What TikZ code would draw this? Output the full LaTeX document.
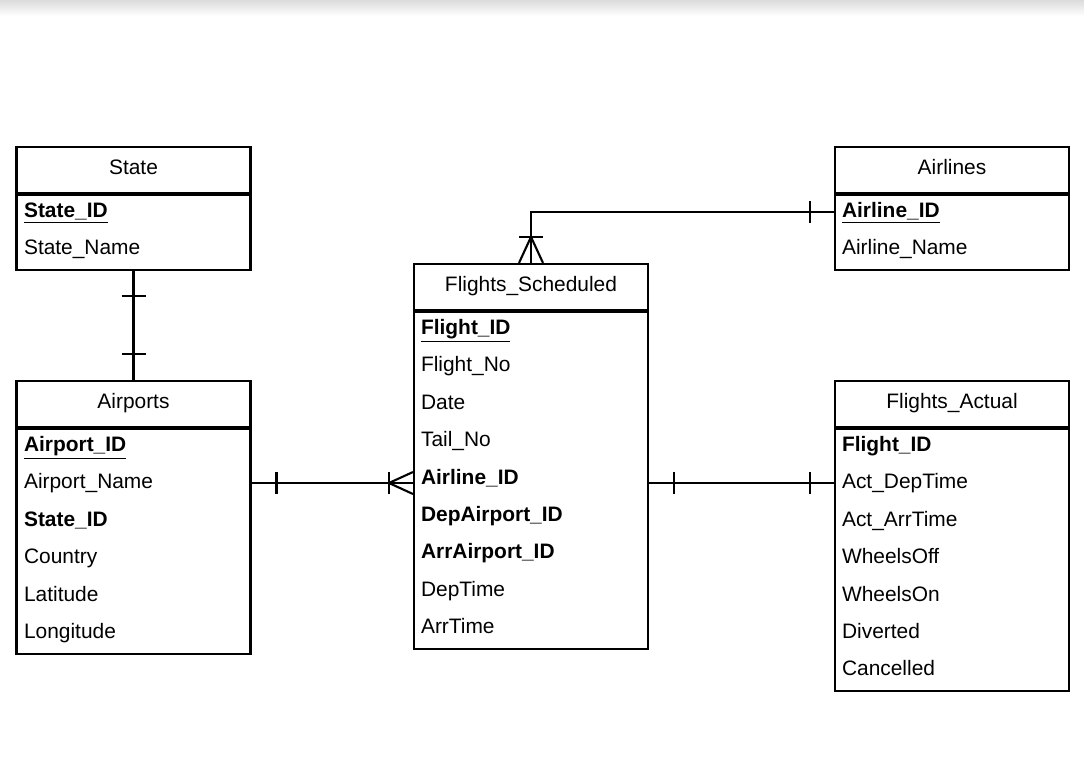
\documentclass[tikz,border=0pt]{standalone}
\usepackage{fontspec}
\setmainfont{Liberation Sans}
\usetikzlibrary{positioning,calc}
\newcommand{\erfont}{\fontsize{11.9}{14}\selectfont}
\newcommand{\pk}[1]{\textbf{\underline{#1}}}
\newcommand{\fk}[1]{\textbf{#1}}

\begin{document}
\begin{tikzpicture}[x=0.02cm,y=-0.02cm,line width=1.2pt,font=\erfont,
 ttl/.style={draw,minimum width=4.68cm,minimum height=0.92cm,inner sep=0pt,text height=9pt,text depth=4pt},
 bod/.style={draw,minimum width=4.68cm,inner sep=0pt,anchor=north},
 fld/.style={anchor=base west,inner sep=0pt}]
\useasboundingbox (0,0) rectangle (1084,757);
\shade[top color=black!14,bottom color=white] (0,0) rectangle (1084,16);
% entities
\node[ttl] (state) at (133.5,170) {State};
\node[bod,minimum height=1.5cm] (stateb) at (state.south) {};
\foreach \t [count=\i from 0] in {\pk{State\_ID},State\_Name}
  \node[fld] (st\i) at (23,217.5+37.4*\i) {\t};
\node[ttl] (airp) at (133.5,404) {Airports};
\node[bod,minimum height=4.5cm] (airpb) at (airp.south) {};
\foreach \t [count=\i from 0] in {\pk{Airport\_ID},Airport\_Name,\fk{State\_ID},Country,Latitude,Longitude}
  \node[fld] (ap\i) at (23,451.5+37.4*\i) {\t};
\node[ttl] (fs) at (531,287) {Flights\_Scheduled};
\node[bod,minimum height=6.74cm] (fsb) at (fs.south) {};
\foreach \t [count=\i from 0] in {\pk{Flight\_ID},Flight\_No,Date,Tail\_No,\fk{Airline\_ID},\fk{DepAirport\_ID},\fk{ArrAirport\_ID},DepTime,ArrTime}
  \node[fld] (fs\i) at (420,334.5+37.4*\i) {\t};
\node[ttl] (airl) at (952,170) {Airlines};
\node[bod,minimum height=1.5cm] (airlb) at (airl.south) {};
\foreach \t [count=\i from 0] in {\pk{Airline\_ID},Airline\_Name}
  \node[fld] (al\i) at (841,217.5+37.4*\i) {\t};
\node[ttl] (fa) at (952,404) {Flights\_Actual};
\node[bod,minimum height=5.24cm] (fab) at (fa.south) {};
\foreach \t [count=\i from 0] in {\fk{Flight\_ID},Act\_DepTime,Act\_ArrTime,WheelsOff,WheelsOn,Diverted,Cancelled}
  \node[fld] (fa\i) at (841,451.5+37.4*\i) {\t};
% relationships
\draw (stateb.south) -- (airp.north);
\draw ($(stateb.south)+(-12,25)$) -- +(24,0);
\draw ($(airp.north)+(-12,-26)$) -- +(24,0);
\draw (airpb.east |- 0,483) -- (fsb.west |- 0,483);
\draw ($(airpb.east |- 0,483)+(25,-11)$) -- +(0,22);
\draw ($(fsb.west |- 0,483)+(-24,-11)$) -- +(0,22);
\draw ($(fsb.west |- 0,483)+(0,-11)$) -- ++(-24,11) -- ++(24,11);
\draw (fs.north) |- (airlb.west |- 0,212);
\draw ($(airlb.west |- 0,212)+(-24,-11)$) -- +(0,22);
\draw ($(fs.north)+(-12,-26)$) -- +(24,0);
\draw ($(fs.north)+(-12,0)$) -- ++(12,-26) -- ++(12,26);
\draw (fsb.east |- 0,483) -- (fab.west |- 0,483);
\draw ($(fsb.east |- 0,483)+(25,-11)$) -- +(0,22);
\draw ($(fab.west |- 0,483)+(-24,-11)$) -- +(0,22);
\end{tikzpicture}
\end{document}
